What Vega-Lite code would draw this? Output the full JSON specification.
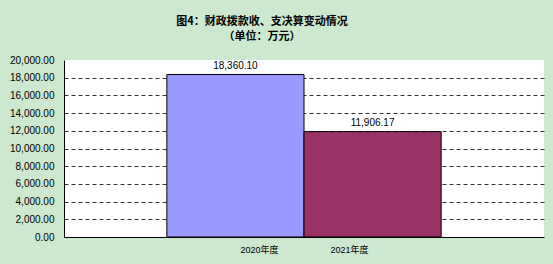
{
  "$schema": "https://vega.github.io/schema/vega-lite/v6.json",
  "autosize": "none",
  "width": 480,
  "height": 177,
  "padding": {"left": 64, "top": 60, "right": 9, "bottom": 27},
  "background": "#CCE8CF",
  "title": {
    "text": ["图4：财政拨款收、支决算变动情况", "（单位：万元）"],
    "font": "Noto Sans CJK SC",
    "fontSize": 11,
    "fontWeight": "bold",
    "lineHeight": 15,
    "color": "#000000",
    "anchor": "middle",
    "dx": -42,
    "offset": 13
  },
  "data": {
    "values": [
      {"year": "2020年度", "amount": 18360.10},
      {"year": "2021年度", "amount": 11906.17}
    ]
  },
  "config": {
    "view": {"fill": "#FFFFFF", "stroke": null},
    "axis": {"labelFont": "Liberation Sans", "labelColor": "#000000"}
  },
  "encoding": {
    "x": {
      "field": "year",
      "type": "nominal",
      "sort": null,
      "scale": {"paddingInner": 0, "paddingOuter": 0.75},
      "axis": {
        "title": null,
        "labelAngle": 0,
        "labelFont": "Liberation Sans, Noto Sans CJK SC",
        "labelFontSize": 9,
        "labelPadding": 8,
        "ticks": false,
        "domainColor": "#000000",
        "labelOffset": {"condition": {"test": "datum.value === '2020年度'", "value": 24}, "value": -23}
      }
    },
    "y": {
      "field": "amount",
      "type": "quantitative",
      "scale": {"domain": [0, 20000]},
      "axis": {
        "title": null,
        "values": [0, 2000, 4000, 6000, 8000, 10000, 12000, 14000, 16000, 18000, 20000],
        "format": ",.2f",
        "labelFontSize": 10,
        "labelPadding": 10,
        "labelOverlap": false,
        "ticks": false,
        "domainColor": "#000000",
        "gridColor": "#333333",
        "gridDash": [4, 3],
        "gridOpacity": {"condition": {"test": "datum.value >= 20000 || datum.value <= 0", "value": 0}, "value": 1}
      }
    }
  },
  "layer": [
    {
      "mark": {"type": "bar", "stroke": "#000000", "strokeWidth": 1},
      "encoding": {
        "color": {
          "field": "year",
          "type": "nominal",
          "scale": {"domain": ["2020年度", "2021年度"], "range": ["#9999FF", "#993366"]},
          "legend": null
        }
      }
    },
    {
      "mark": {"type": "text", "baseline": "bottom", "dy": -4, "font": "Liberation Sans", "fontSize": 10, "color": "#000000"},
      "encoding": {
        "text": {"field": "amount", "type": "quantitative", "format": ",.2f"}
      }
    }
  ]
}
